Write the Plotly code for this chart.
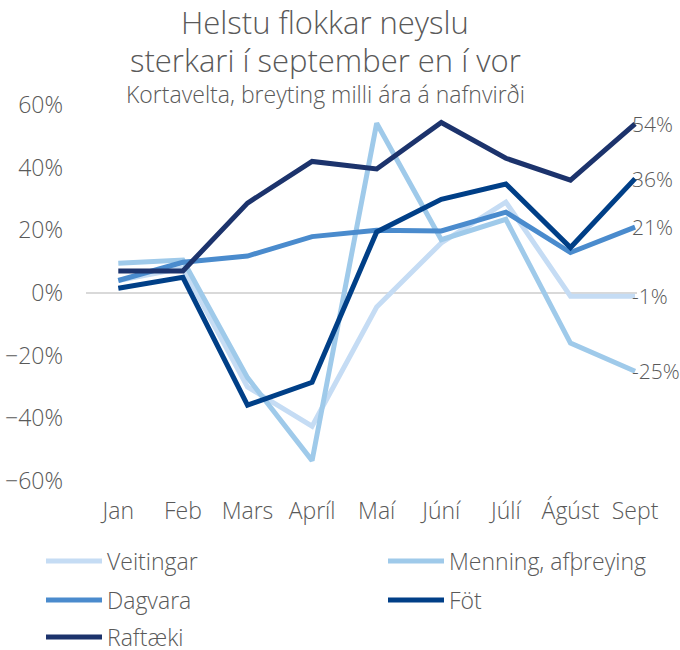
import plotly.graph_objects as go

months = ["Jan", "Feb", "Mars", "Apríl", "Maí", "Júní", "Júlí", "Ágúst", "Sept"]

veitingar = [4, 8, -30, -42.5, -4.5, 16, 29, -1, -1]
menning = [9.5, 10.5, -27, -53.5, 54.2, 17, 23.5, -16, -25]
dagvara = [4, 9.8, 11.8, 18, 20, 19.8, 25.8, 12.9, 21]
fot = [1.5, 5, -35.8, -28.5, 19.5, 29.9, 34.8, 14.5, 36.5]
raftaeki = [7, 7, 28.7, 42, 39.6, 54.4, 43, 36, 54]

series_names = ["Veitingar", "Menning, afþreying", "Dagvara", "Föt", "Raftæki"]
series_values = [veitingar, menning, dagvara, fot, raftaeki]
colors = ["#c5dcf4", "#9fcaea", "#4a8bcd", "#003f87", "#1c336c"]

title_lines = ["Helstu flokkar neyslu", "sterkari í september en í vor"]
subtitle = "Kortavelta, breyting milli ára á nafnvirði"

FONT = "Open Sans"
GREY = "#595959"
TF = dict(family=FONT, size=23, color=GREY, weight=300)

# plot area in pixels: left 86, right 637, top 105, bottom 481
L, R, T, B = 86, 637, 105, 481
PW, PH = R - L, B - T

def px_x(px):
    return (px - L) / PW

def px_y(py):
    return (B - py) / PH

# legend slots: (line start x, row center y)
legend_pos = [(41, 561), (383, 561), (41, 600), (383, 600), (41, 637)]
legend_ids = ["legend", "legend2", "legend3", "legend4", "legend5"]

fig = go.Figure()
for name, vals, col, lg in zip(series_names, series_values, colors, legend_ids):
    fig.add_trace(go.Scatter(
        x=months, y=[v / 100 for v in vals], name=name, mode="lines",
        line=dict(color=col, width=5), legend=lg,
    ))
    fig.add_annotation(
        x=months[-1], y=vals[-1] / 100, text=f"{round(vals[-1]):d}%",
        showarrow=False, xanchor="left", yanchor="middle", xshift=-5,
        font=dict(family=FONT, size=21, color=GREY, weight=300),
    )

legends = {}
for lg, (lx, ly) in zip(legend_ids, legend_pos):
    legends[lg] = dict(
        x=px_x(lx), y=px_y(ly), xanchor="left", yanchor="middle",
        orientation="v", itemwidth=56, font=TF,
        bgcolor="rgba(0,0,0,0)", itemclick=False, itemdoubleclick=False,
    )

TX = px_x(325)
fig.add_annotation(x=TX, y=px_y(22), xref="paper", yref="paper", text=title_lines[0],
                   showarrow=False, xanchor="center", yanchor="middle",
                   font=dict(family=FONT, size=31, color=GREY, weight=300))
fig.add_annotation(x=TX, y=px_y(60), xref="paper", yref="paper", text=title_lines[1],
                   showarrow=False, xanchor="center", yanchor="middle",
                   font=dict(family=FONT, size=31, color=GREY, weight=300))
fig.add_annotation(x=TX, y=px_y(94), xref="paper", yref="paper", text=subtitle,
                   showarrow=False, xanchor="center", yanchor="middle",
                   font=dict(family=FONT, size=23, color=GREY, weight=300))

fig.update_layout(
    width=680, height=650,
    margin=dict(l=L, r=680 - R, t=T, b=650 - B, autoexpand=False),
    paper_bgcolor="white", plot_bgcolor="white",
    font=dict(family=FONT, color=GREY, weight=300),
    xaxis=dict(
        type="category", range=[-0.5, 8.03], showgrid=False, showline=False,
        ticks="", tickfont=TF, ticklabelstandoff=14,
    ),
    yaxis=dict(
        range=[-0.6, 0.6], dtick=0.2, tickformat=".0%", showgrid=False,
        zeroline=True, zerolinecolor="#d9d9d9", zerolinewidth=2,
        tickfont=TF, ticklabelstandoff=22,
    ),
    showlegend=True,
    **legends,
)

fig.write_html("out.html", config={"displayModeBar": False},
               post_script="document.body.style.margin='0';")
